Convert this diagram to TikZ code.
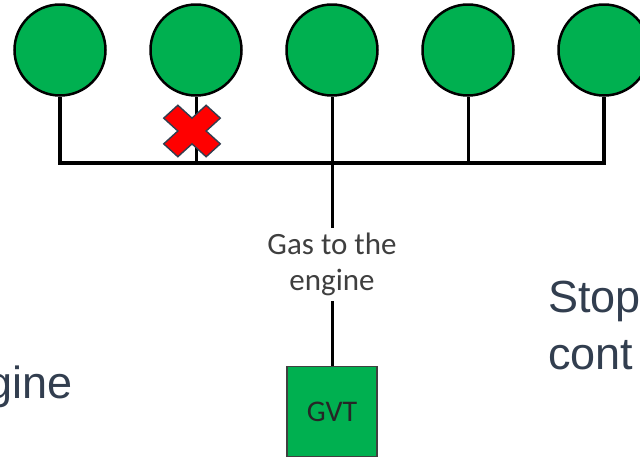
\documentclass[tikz,border=0pt]{standalone}
\usepackage{fontspec}
\setmainfont{Liberation Sans}
\newfontfamily\calfont{Carlito}
\usepackage{tikz}
\usetikzlibrary{positioning}
\definecolor{tankGreen}{HTML}{00B050}
\definecolor{slideInk}{HTML}{323E4F}
\definecolor{noteGray}{HTML}{3F3F3F}
\definecolor{crossRed}{HTML}{FF0000}
\tikzset{
  tank/.style={circle, draw=black, line width=2.5pt, fill=tankGreen,
               minimum size=91pt, inner sep=0pt},
  pipe/.style={line width=3pt, draw=black},
  header/.style={line width=4pt, draw=black, line join=miter},
  gvtbox/.style={draw=black!75, line width=1.3pt, fill=tankGreen, minimum width=90pt,
                 minimum height=90pt, text=black!85, font=\calfont\fontsize{30}{36}\selectfont},
  pipenote/.style={font=\calfont\fontsize{31}{36}\selectfont, text=noteGray, align=center, inner sep=5pt},
  slidetext/.style={font=\fontsize{45}{57}\selectfont, text=slideInk, align=left, inner sep=0pt},
  crossmark/.style={fill=crossRed, draw=slideInk, line width=1.4pt, line join=miter},
}

\begin{document}
\begin{tikzpicture}[x=1pt, y=-1pt, node distance=42.5pt]
    \useasboundingbox (0,0) rectangle (640,459);
    \clip (0,0) rectangle (640,459);
    % tanks
    \node[tank] (t1) at (60,50) {};
    \node[tank, right=of t1] (t2) {};
    \node[tank, right=of t2] (t3) {};
    \node[tank, right=of t3] (t4) {};
    \node[tank, right=of t4] (t5) {};
    \coordinate (busL) at (60,163);
    % header and stems
    \draw[header] (t1.south) -- (busL) -| (t5.south);
    \draw[pipe] (t2.south) -- (t2.south |- busL);
    \draw[pipe] (t4.south) -- (t4.south |- busL);
    \node[pipenote, below=131pt of t3] (gas) {Gas to the\\engine};
    \node[gvtbox, below=65pt of gas] (gvt) {GVT};
    \draw[pipe] (t3.south) -- (gas.north);
    \draw[pipe] (gas.south) -- (gvt.north);
    % closed valve
    \begin{scope}[shift={(192,131)}, yscale=0.91, rotate=45]
      \draw[crossmark] (10,30) -- (10,10) -- (30,10) -- (30,-10) -- (10,-10) -- (10,-30)
        -- (-10,-30) -- (-10,-10) -- (-30,-10) -- (-30,10) -- (-10,10) -- (-10,30) -- cycle;
    \end{scope}
    % slide text cut by the frame
    \node[slidetext, anchor=base east] (engtxt) at (73,398) {gine};
    \node[slidetext, anchor=north west] (stoptxt) at (548,281) {Stop\\cont};
  \end{tikzpicture}
\end{document}
